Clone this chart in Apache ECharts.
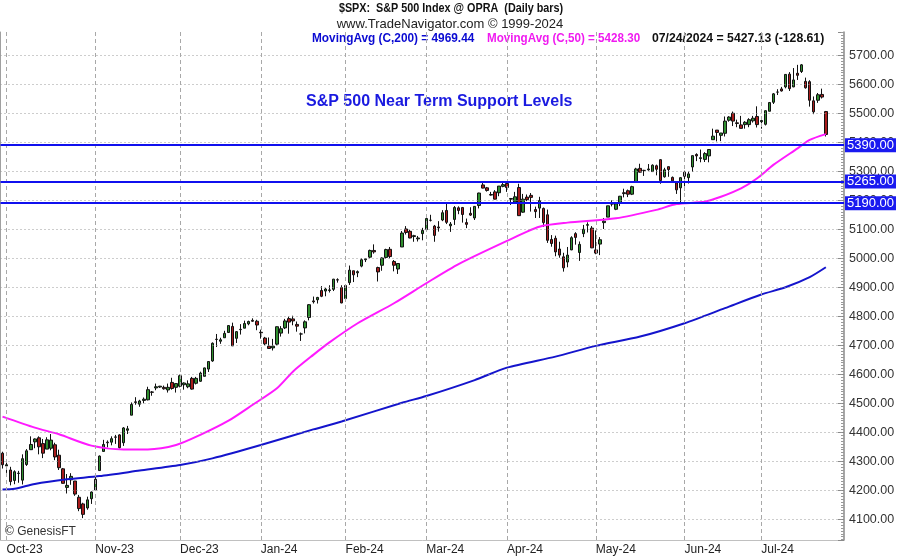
<!DOCTYPE html>
<html><head><meta charset="utf-8">
<script src="https://cdn.jsdelivr.net/npm/echarts@6/dist/echarts.min.js"></script>
<style>html,body{margin:0;padding:0;background:#fff}#c{width:900px;height:560px}</style>
</head><body><div id="c"></div>
<script>
const dates = [
'2023-09-29',
'2023-10-02','2023-10-03','2023-10-04','2023-10-05','2023-10-06','2023-10-09','2023-10-10','2023-10-11','2023-10-12','2023-10-13','2023-10-16','2023-10-17','2023-10-18','2023-10-19','2023-10-20','2023-10-23','2023-10-24','2023-10-25','2023-10-26','2023-10-27','2023-10-30','2023-10-31',
'2023-11-01','2023-11-02','2023-11-03','2023-11-06','2023-11-07','2023-11-08','2023-11-09','2023-11-10','2023-11-13','2023-11-14','2023-11-15','2023-11-16','2023-11-17','2023-11-20','2023-11-21','2023-11-22','2023-11-24','2023-11-27','2023-11-28','2023-11-29','2023-11-30',
'2023-12-01','2023-12-04','2023-12-05','2023-12-06','2023-12-07','2023-12-08','2023-12-11','2023-12-12','2023-12-13','2023-12-14','2023-12-15','2023-12-18','2023-12-19','2023-12-20','2023-12-21','2023-12-22','2023-12-26','2023-12-27','2023-12-28','2023-12-29',
'2024-01-02','2024-01-03','2024-01-04','2024-01-05','2024-01-08','2024-01-09','2024-01-10','2024-01-11','2024-01-12','2024-01-16','2024-01-17','2024-01-18','2024-01-19','2024-01-22','2024-01-23','2024-01-24','2024-01-25','2024-01-26','2024-01-29','2024-01-30','2024-01-31',
'2024-02-01','2024-02-02','2024-02-05','2024-02-06','2024-02-07','2024-02-08','2024-02-09','2024-02-12','2024-02-13','2024-02-14','2024-02-15','2024-02-16','2024-02-20','2024-02-21','2024-02-22','2024-02-23','2024-02-26','2024-02-27','2024-02-28','2024-02-29',
'2024-03-01','2024-03-04','2024-03-05','2024-03-06','2024-03-07','2024-03-08','2024-03-11','2024-03-12','2024-03-13','2024-03-14','2024-03-15','2024-03-18','2024-03-19','2024-03-20','2024-03-21','2024-03-22','2024-03-25','2024-03-26','2024-03-27','2024-03-28',
'2024-04-01','2024-04-02','2024-04-03','2024-04-04','2024-04-05','2024-04-08','2024-04-09','2024-04-10','2024-04-11','2024-04-12','2024-04-15','2024-04-16','2024-04-17','2024-04-18','2024-04-19','2024-04-22','2024-04-23','2024-04-24','2024-04-25','2024-04-26','2024-04-29','2024-04-30',
'2024-05-01','2024-05-02','2024-05-03','2024-05-06','2024-05-07','2024-05-08','2024-05-09','2024-05-10','2024-05-13','2024-05-14','2024-05-15','2024-05-16','2024-05-17','2024-05-20','2024-05-21','2024-05-22','2024-05-23','2024-05-24','2024-05-28','2024-05-29','2024-05-30','2024-05-31',
'2024-06-03','2024-06-04','2024-06-05','2024-06-06','2024-06-07','2024-06-10','2024-06-11','2024-06-12','2024-06-13','2024-06-14','2024-06-17','2024-06-18','2024-06-20','2024-06-21','2024-06-24','2024-06-25','2024-06-26','2024-06-27','2024-06-28',
'2024-07-01','2024-07-02','2024-07-03','2024-07-05','2024-07-08','2024-07-09','2024-07-10','2024-07-11','2024-07-12','2024-07-15','2024-07-16','2024-07-17','2024-07-18','2024-07-19','2024-07-22','2024-07-23','2024-07-24'
];
const opens = [
4328,
4284,4270,4234,4259,4235,4289,4340,4367,4381,4361,4342,4345,4357,4321,4274,4210,4236,4232,4176,4153,4139,4171,
4201,4268,4334,4364,4366,4384,4391,4364,4407,4459,4505,4497,4510,4512,4539,4553,4556,4555,4546,4572,4555,
4559,4564,4557,4586,4569,4576,4593,4618,4646,4721,4714,4726,4744,4765,4724,4754,4759,4774,4786,4783,
4745,4725,4697,4691,4704,4742,4760,4792,4791,4772,4739,4760,4796,4853,4857,4889,4887,4889,4893,4926,4899,
4861,4916,4957,4950,4973,4995,5004,5027,4968,4976,5003,5031,4989,4963,5039,5101,5093,5075,5067,5085,
5099,5131,5111,5108,5132,5165,5112,5134,5174,5175,5123,5155,5139,5182,5253,5243,5220,5229,5226,5248,
5258,5204,5194,5244,5159,5211,5217,5168,5173,5172,5150,5065,5069,5032,5005,4987,5029,5085,5020,5085,5114,5104,
5029,5049,5123,5142,5187,5169,5189,5226,5233,5221,5263,5310,5303,5305,5299,5319,5340,5281,5316,5279,5260,5243,
5297,5278,5315,5358,5344,5341,5353,5409,5442,5424,5431,5476,5500,5467,5460,5461,5461,5474,5489,
5471,5462,5507,5538,5573,5584,5591,5635,5591,5638,5644,5610,5609,5543,5545,5565,5506
];
const highs = [
4333,
4301,4281,4269,4267,4324,4342,4386,4379,4386,4377,4383,4394,4364,4340,4277,4256,4259,4232,4184,4157,4178,4196,
4246,4320,4374,4372,4386,4391,4393,4418,4422,4503,4521,4512,4520,4557,4542,4568,4560,4561,4568,4588,4570,
4599,4572,4579,4591,4591,4609,4623,4644,4710,4739,4726,4750,4769,4778,4749,4773,4785,4785,4793,4788,
4754,4729,4727,4722,4765,4766,4791,4799,4802,4782,4744,4786,4842,4868,4867,4904,4898,4907,4929,4931,4907,
4907,4975,4957,4958,5000,5000,5030,5048,4971,5003,5033,5039,4994,4983,5094,5111,5098,5081,5077,5105,
5138,5150,5115,5128,5166,5189,5125,5180,5179,5177,5137,5176,5180,5226,5261,5246,5229,5235,5249,5265,
5264,5208,5229,5257,5222,5220,5225,5178,5212,5175,5168,5080,5078,5057,5019,5039,5076,5090,5058,5115,5124,5111,
5096,5073,5139,5181,5200,5192,5215,5240,5237,5250,5312,5326,5305,5325,5324,5323,5342,5312,5316,5282,5260,5280,
5302,5299,5354,5362,5375,5366,5376,5447,5442,5432,5489,5490,5506,5478,5491,5473,5483,5491,5524,
5480,5510,5539,5570,5583,5591,5635,5642,5656,5667,5670,5623,5614,5558,5570,5585,5508
];
const lows = [
4275,
4260,4217,4221,4226,4220,4284,4340,4345,4324,4311,4342,4338,4304,4270,4223,4189,4219,4181,4128,4104,4133,4153,
4198,4268,4334,4348,4355,4360,4344,4353,4394,4459,4495,4488,4500,4510,4526,4545,4553,4547,4537,4547,4537,
4555,4547,4552,4547,4565,4574,4593,4608,4643,4694,4705,4726,4744,4698,4708,4737,4759,4769,4781,4752,
4723,4700,4688,4682,4700,4730,4756,4740,4769,4747,4715,4741,4786,4844,4844,4866,4869,4882,4887,4916,4845,
4854,4908,4918,4935,4969,4987,5000,5016,4920,4957,4999,5000,4955,4946,5039,5082,5069,5057,5058,5062,
5095,5127,5057,5092,5128,5118,5091,5115,5152,5123,5104,5146,5132,5172,5241,5230,5216,5203,5214,5245,
5229,5184,5194,5146,5157,5197,5161,5139,5139,5108,5053,5040,5007,5002,4954,4969,5028,5047,4991,5073,5089,5035,
5014,5011,5101,5142,5179,5166,5180,5210,5211,5218,5263,5296,5284,5302,5298,5286,5257,5278,5281,5263,5222,5192,
5234,5258,5298,5335,5331,5332,5331,5409,5403,5404,5420,5471,5456,5452,5448,5447,5452,5468,5451,
5447,5458,5507,5532,5563,5575,5586,5577,5590,5615,5639,5585,5523,5497,5536,5551,5420
];
const closes = [
4288,
4288,4230,4264,4258,4309,4336,4358,4377,4350,4328,4374,4373,4315,4278,4224,4217,4248,4187,4137,4117,4167,4194,
4238,4318,4358,4366,4378,4383,4347,4415,4412,4496,4503,4508,4514,4547,4538,4557,4559,4550,4555,4551,4568,
4595,4570,4567,4549,4586,4604,4622,4644,4707,4720,4719,4741,4768,4698,4747,4755,4775,4782,4783,4770,
4743,4705,4689,4697,4764,4757,4784,4780,4784,4766,4739,4781,4840,4850,4865,4869,4894,4891,4928,4925,4846,
4906,4959,4943,4954,4995,4998,5027,5022,4953,5001,5030,5006,4976,4982,5087,5089,5070,5078,5070,5096,
5137,5131,5079,5105,5157,5124,5118,5175,5165,5151,5117,5149,5179,5225,5242,5234,5218,5204,5249,5254,
5244,5206,5212,5147,5204,5202,5210,5161,5199,5123,5062,5051,5022,5011,4967,5011,5071,5072,5048,5100,5116,5036,
5018,5064,5128,5181,5188,5188,5214,5223,5221,5247,5308,5297,5303,5308,5321,5307,5268,5305,5306,5267,5236,5278,
5283,5291,5354,5353,5347,5361,5375,5421,5434,5432,5473,5487,5473,5465,5448,5469,5478,5483,5461,
5475,5509,5537,5567,5573,5577,5634,5585,5615,5631,5667,5588,5545,5505,5564,5556,5427
];
const padSlots = ['pad1','pad2','pad3','pad4'];
const monthTicks = [
['2023-10-02','Oct-23'],['2023-11-01','Nov-23'],['2023-12-01','Dec-23'],['2024-01-02','Jan-24'],
['2024-02-01','Feb-24'],['2024-03-01','Mar-24'],['2024-04-01','Apr-24'],['2024-05-01','May-24'],
['2024-06-03','Jun-24'],['2024-07-01','Jul-24']
];
const yTicks = [4100,4200,4300,4400,4500,4600,4700,4800,4900,5000,5100,5200,5300,5400,5500,5600,5700];
const supportLevels = [5390, 5265, 5190];
const ma50Dates = ['2023-09-29','2023-10-11','2023-10-19','2023-10-31','2023-11-10','2023-11-20','2023-11-30','2023-12-08','2023-12-19','2023-12-28','2024-01-08','2024-01-12','2024-01-22','2024-01-26','2024-02-06','2024-02-20','2024-03-01','2024-03-13','2024-04-01','2024-04-11','2024-04-22','2024-05-08','2024-05-22','2024-05-30','2024-06-10','2024-06-14','2024-06-24','2024-06-28','2024-07-05','2024-07-15','2024-07-18','2024-07-24'];
const ma50Values = [4454,4416,4393,4354,4341,4341,4356,4391,4440,4495,4552,4610,4667,4710,4776,4845,4914,4980,5060,5109,5123,5138,5167,5187,5195,5212,5241,5276,5322,5379,5408,5428];
const ma200Dates = ['2023-09-29','2023-10-04','2023-10-11','2023-10-23','2023-11-02','2023-11-16','2023-12-01','2023-12-13','2024-01-02','2024-01-22','2024-01-31','2024-02-22','2024-03-01','2024-03-19','2024-04-01','2024-04-17','2024-05-01','2024-05-16','2024-06-03','2024-06-17','2024-07-01','2024-07-10','2024-07-18','2024-07-24'];
const ma200Values = [4203,4205,4222,4238,4249,4268,4287,4310,4356,4410,4437,4502,4525,4580,4623,4661,4698,4730,4776,4828,4875,4900,4935,4969];

const chart = echarts.init(document.getElementById('c'), null, {renderer:'canvas'});
const labelMap = {}; monthTicks.forEach(m => labelMap[m[0]] = m[1]);
const cats = dates.concat(padSlots);
const candleData = dates.map((d,i) => [opens[i], closes[i], lows[i], highs[i]]);
const F = '"Liberation Sans", Arial, sans-serif';
const noSym = ['none','none'];

chart.setOption({
  animation:false,
  backgroundColor:'#ffffff',
  grid:{left:0.5, right:56, top:32, bottom:20, containLabel:false},
  xAxis:{type:'category', data:cats, boundaryGap:true,
    axisLine:{show:true, lineStyle:{color:'#c0c0c0'}}, axisTick:{show:false},
    axisLabel:{interval:(i,v)=>labelMap[v]!==undefined, formatter:v=>labelMap[v]||'', align:'left',
      color:'#222', fontSize:12, fontFamily:F, margin:4},
    splitLine:{show:false}},
  yAxis:[{type:'value', position:'right', min:4028.6, max:5780.3, splitNumber:17, minInterval:100, maxInterval:100, scale:true,
    axisLine:{show:true, lineStyle:{color:'#8a8a8a', width:1.5}},
    axisTick:{show:true, inside:true, length:6, lineStyle:{color:'#8a8a8a'}},
    minorTick:{show:true, splitNumber:10, length:3, lineStyle:{color:'#9a9a9a'}},
    splitLine:{show:false},
    axisLabel:{formatter:v=>(Math.abs(v/100-Math.round(v/100))<1e-6? v.toFixed(2):''), color:'#333', fontSize:12.5, fontFamily:F, margin:5}},
   {type:'value', position:'left', min:4028.6, max:5780.3, scale:true,
    axisLine:{show:true, lineStyle:{color:'#a0a0a0', width:1}}, axisTick:{show:false}, axisLabel:{show:false}, splitLine:{show:false}}],
  series:[
    {type:'line', data:[], z:1, silent:true,
      markLine:{silent:true, symbol:noSym, animation:false, label:{show:false},
        data: yTicks.map(v=>({yAxis:v, lineStyle:{type:[1,3], color:'#9a9a9a', width:1}}))
          .concat(monthTicks.map(m=>({xAxis:m[0], lineStyle:{type:[4,3], color:'#a8a8a8', width:1}})))}},
    {type:'candlestick', data:candleData, z:3, barWidth:3,
      itemStyle:{color:'#2f8f2f', color0:'#a81c1c', borderColor:'#111', borderColor0:'#111', borderWidth:1}},
    {type:'line', data:ma200Dates.map((d,i)=>[d, ma200Values[i]]), z:4, showSymbol:false, smooth:0.25,
      lineStyle:{color:'#1414cc', width:2}},
    {type:'line', data:ma50Dates.map((d,i)=>[d, ma50Values[i]]), z:4, showSymbol:false, smooth:0.25,
      lineStyle:{color:'#ff1aff', width:2}},
    {type:'line', data:[], z:5,
      markLine:{silent:true, symbol:noSym, animation:false,
        lineStyle:{color:'#1010ee', width:2, type:'solid'},
        label:{show:true, position:'end', distance:1, formatter:p=>p.value.toFixed(2), color:'#fff',
          backgroundColor:'#1a1af0', padding:[1,2,0,2], fontSize:13, fontFamily:F},
        data: supportLevels.map(v=>({yAxis:v}))}}
  ],
  graphic:[
    {type:'text', x:451, y:9, scaleX:0.9, style:{text:'$SPX:  S&P 500 Index @ OPRA  (Daily bars)', fill:'#111', font:'bold 12px '+F, align:'center', verticalAlign:'middle'}},
    {type:'text', x:450, y:24, style:{text:'www.TradeNavigator.com © 1999-2024', fill:'#222', font:'13px '+F, align:'center', verticalAlign:'middle'}},
    {type:'text', x:312, y:38, scaleX:0.91, style:{text:'MovingAvg (C,200) = 4969.44', fill:'#0a0ad2', font:'bold 13px '+F, align:'left', verticalAlign:'middle'}},
    {type:'text', x:487, y:38, scaleX:0.895, style:{text:'MovingAvg (C,50) = 5428.30', fill:'#f01af0', font:'bold 13px '+F, align:'left', verticalAlign:'middle'}},
    {type:'text', x:652, y:38, scaleX:0.94, style:{text:'07/24/2024 = 5427.13 (-128.61)', fill:'#111', font:'bold 13px '+F, align:'left', verticalAlign:'middle'}},
    {type:'text', x:306, y:102, style:{text:'S&P 500 Near Term Support Levels', fill:'#1a1ae0', font:'bold 16px '+F, align:'left', verticalAlign:'middle'}},
    {type:'text', x:5, y:532, style:{text:'© GenesisFT', fill:'#333', font:'12px '+F, align:'left', verticalAlign:'middle'}}
  ]
});
</script></body></html>
